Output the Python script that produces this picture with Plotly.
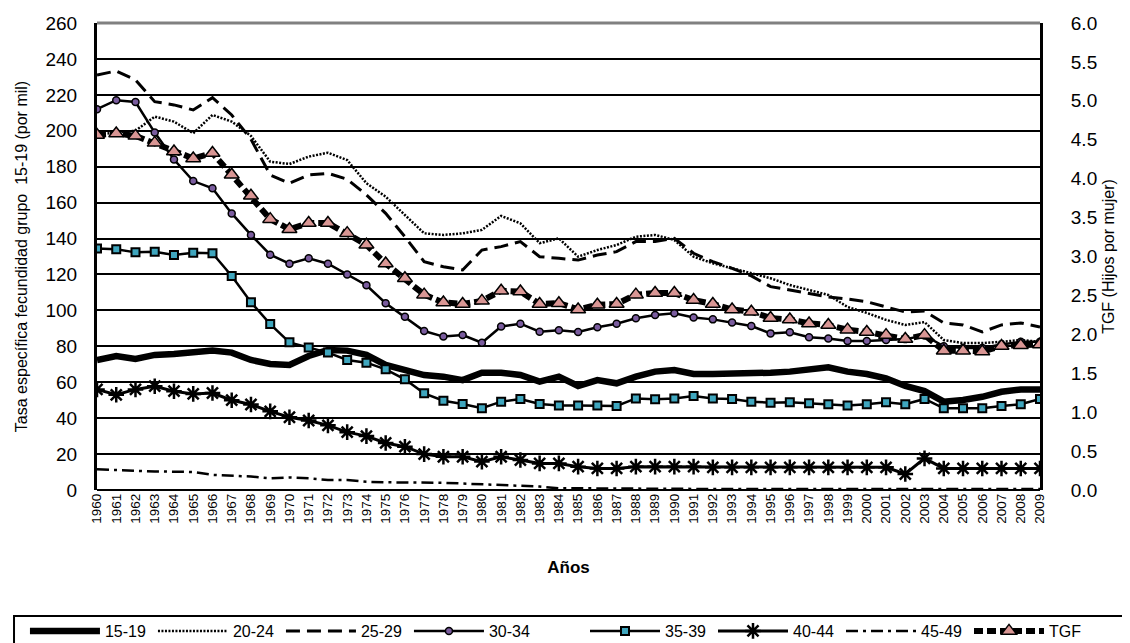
import plotly.graph_objects as go

years = list(range(1960, 2010))

g15_19 = [72.4, 74.6, 73, 75.2, 75.7, 76.5, 77.6, 76.5, 72.4, 70.2,
          69.6, 74.6, 78, 77.6, 75.2, 69.6, 66.8, 64, 63.1, 61.2,
          65.3, 65.3, 64, 60.3, 63.1, 57.9, 61.2, 59.4, 63.1, 65.9,
          66.8, 64.6, 64.6, 64.6, 65.3, 65.3, 65.9, 67.2, 68.3, 65.9,
          64.6, 62.2, 57.9, 55.1, 49.2, 50.1, 51.9, 54.7, 56, 56]
g20_24 = [198, 199, 200, 207.9, 205.1, 198.6, 208.8, 205.1, 197.1, 182.8,
          181.5, 185.6, 187.8, 183.7, 170.8, 163.3, 153.1, 142.9, 142, 142.9,
          144.8, 152.6, 148.5, 137.4, 140.1, 129.9, 133.6, 136.4, 141, 142,
          139.2, 129.9, 126.2, 123.4, 120.7, 117.9, 114.1, 111.4, 108.6, 101.9,
          98.6, 94.7, 91.9, 93.5, 83.5, 81.8, 81.8, 82.5, 83.5, 82.5]
g25_29 = [231, 233.3, 228.3, 216.2, 214.4, 211.6, 218.4, 208.8, 195.3, 175.4,
          170.8, 175.4, 176.3, 173, 164.3, 154, 141, 127.1, 124.3, 122.5,
          133.6, 135.5, 138.3, 129.9, 129, 128, 130.8, 132.7, 138.3, 138.3,
          140.1, 131.8, 127.1, 123.4, 119.2, 113.2, 111.4, 109.5, 107.5, 106.3,
          104.8, 101.9, 99.1, 99.6, 93, 91.9, 88, 91.9, 93, 90.8]
g30_34 = [212, 217, 216, 199, 184, 172, 168, 154, 142, 131,
          126, 129, 126, 120, 114, 104, 96.5, 88.5, 85.4, 86.3,
          82, 91, 92.6, 88.1, 89, 88, 90.6, 92.6, 95.6, 97.4,
          98.4, 96, 95, 93.2, 91.3, 87.2, 87.8, 85, 84.4, 83,
          83, 83.5, 84, 86, 80, 79, 79, 81, 82.5, 82.5]
g35_39 = [134.5, 134, 132.3, 132.7, 130.8, 132.1, 131.8, 119.2, 104.5, 92.4,
          82.2, 79.4, 76.5, 72.4, 70.9, 67.2, 61.6, 53.8, 49.7, 47.9,
          45.5, 49.2, 50.7, 47.9, 47, 47, 47, 46.8, 51, 50.5,
          51, 52.3, 51, 50.7, 49.2, 48.6, 48.8, 48.3, 47.7, 47,
          47.7, 48.8, 47.7, 50.7, 45.5, 45.5, 45.5, 46.8, 47.7, 50.7]
g40_44 = [56, 53, 56, 57.8, 55, 53.5, 54, 50, 47.6, 43.8,
          40.5, 38.7, 36, 32.2, 30, 26.2, 24.1, 20, 18.5, 18.5,
          15.8, 18.5, 16.7, 14.8, 14.8, 13, 12, 12, 13, 13,
          13, 13, 12.6, 12.6, 12.6, 12.6, 12.6, 12.6, 12.6, 12.6,
          12.6, 12.6, 8.9, 17.6, 12, 12, 12, 12, 12, 12]
g45_49 = [11.5, 11, 10.5, 10.3, 10.2, 10, 8.4, 8, 7.5, 6.5,
          7, 6.5, 5.6, 5.6, 4.6, 4.3, 4.2, 4.3, 4, 3.6,
          3.2, 2.9, 2.4, 1.9, 1, 0.9, 0.9, 0.8, 0.7, 0.7,
          0.6, 0.6, 0.6, 0.5, 0.5, 0.5, 0.5, 0.5, 0.5, 0.5,
          0.5, 0.5, 0.5, 0.5, 0.5, 0.5, 0.5, 0.5, 0.5, 0.5]
tgf = [4.56, 4.58, 4.55, 4.46, 4.35, 4.26, 4.33, 4.05, 3.78, 3.48,
       3.35, 3.43, 3.43, 3.30, 3.15, 2.91, 2.72, 2.51, 2.41, 2.39,
       2.43, 2.56, 2.55, 2.39, 2.40, 2.32, 2.38, 2.39, 2.51, 2.53,
       2.53, 2.44, 2.39, 2.32, 2.29, 2.21, 2.19, 2.14, 2.12, 2.06,
       2.03, 1.99, 1.94, 1.99, 1.79, 1.79, 1.78, 1.85, 1.86, 1.87]

FONT = "Liberation Sans, Arial, sans-serif"

fig = go.Figure()

fig.add_trace(go.Scatter(x=years, y=g15_19, name="15-19", mode="lines", legend="legend",
                         line=dict(color="black", width=6.5)))
fig.add_trace(go.Scatter(x=years, y=g20_24, name="20-24", mode="lines", legend="legend",
                         line=dict(color="black", width=2.5, dash="2px,1.5px")))
fig.add_trace(go.Scatter(x=years, y=g25_29, name="25-29", mode="lines", legend="legend",
                         line=dict(color="black", width=3, dash="14px,7px")))
fig.add_trace(go.Scatter(x=years, y=g30_34, name="30-34", mode="lines+markers",
                         legend="legend",
                         line=dict(color="black", width=2.5),
                         marker=dict(symbol="circle", size=7, color="#7A5C9E",
                                     line=dict(color="black", width=1.5))))
fig.add_trace(go.Scatter(x=years, y=g35_39, name="35-39", mode="lines+markers",
                         legend="legend2",
                         line=dict(color="black", width=2.5),
                         marker=dict(symbol="square", size=8, color="#3FA6BE",
                                     line=dict(color="black", width=2))))
fig.add_trace(go.Scatter(x=years, y=g40_44, name="40-44", mode="lines+markers",
                         legend="legend2",
                         line=dict(color="black", width=3),
                         marker=dict(symbol="asterisk-open", size=13, color="black",
                                     line=dict(color="black", width=2.5))))
fig.add_trace(go.Scatter(x=years, y=g45_49, name="45-49", mode="lines", legend="legend2",
                         line=dict(color="black", width=2.5, dash="12px,5px,3px,5px")))
fig.add_trace(go.Scatter(x=years, y=tgf, name="TGF", mode="lines+markers", yaxis="y2",
                         legend="legend2",
                         line=dict(color="black", width=6, dash="9px,4px"),
                         marker=dict(symbol="triangle-up", size=13, color="#D99694",
                                     line=dict(color="black", width=1.5))))

# top border of the plot area (grey)
fig.add_shape(type="line", xref="paper", yref="paper", x0=0, x1=1, y0=1, y1=1,
              line=dict(color="#808080", width=3), layer="above")
# legend frame (runs off the right and bottom edges, as in the original)
fig.add_shape(type="rect", xref="paper", yref="paper", x0=-0.088, x1=1.2,
              y0=-0.2698, y1=-0.6, line=dict(color="black", width=2),
              fillcolor="rgba(0,0,0,0)", layer="above")

leg_common = dict(orientation="h", yanchor="top", y=-0.2655, xanchor="left",
                  borderwidth=0, font=dict(size=16), entrywidth=43,
                  entrywidthmode="pixels", itemwidth=70, traceorder="normal",
                  bgcolor="rgba(0,0,0,0)")

# the page body has an 8px margin, so the figure is made 8px smaller
fig.update_layout(
    width=1122, height=635,
    margin=dict(l=89, r=90, t=15, b=153, autoexpand=False),
    paper_bgcolor="white", plot_bgcolor="white",
    font=dict(family=FONT, color="black"),
    showlegend=True,
    legend=dict(x=-0.0764, **leg_common),
    legend2=dict(x=0.5175, **leg_common),
    xaxis=dict(range=[1960, 2009], tickmode="array", tickvals=years,
               ticktext=[str(y) for y in years], tickangle=-90,
               tickfont=dict(size=13.5), showgrid=False, zeroline=False,
               showline=False, ticks="",
               title=dict(text="<b>Años</b>", font=dict(size=17), standoff=38)),
    yaxis=dict(range=[0, 260], dtick=20, tickfont=dict(size=19),
               ticklabelstandoff=13,
               showgrid=True, gridcolor="black", gridwidth=2,
               zeroline=True, zerolinecolor="black", zerolinewidth=2,
               showline=True, linecolor="black", linewidth=3, ticks="",
               title=dict(text="Tasa específica fecundidad grupo  15-19 (por mil)",
                          font=dict(size=16), standoff=14)),
    yaxis2=dict(range=[0, 6], dtick=0.5, tickformat=".1f", overlaying="y",
                side="right", tickfont=dict(size=19), ticklabelstandoff=24,
                showgrid=False,
                zeroline=False, showline=True, linecolor="black", linewidth=3,
                ticks="",
                title=dict(text="TGF (Hijos por mujer)", font=dict(size=16),
                           standoff=7)),
)

fig.write_html("out.html")
